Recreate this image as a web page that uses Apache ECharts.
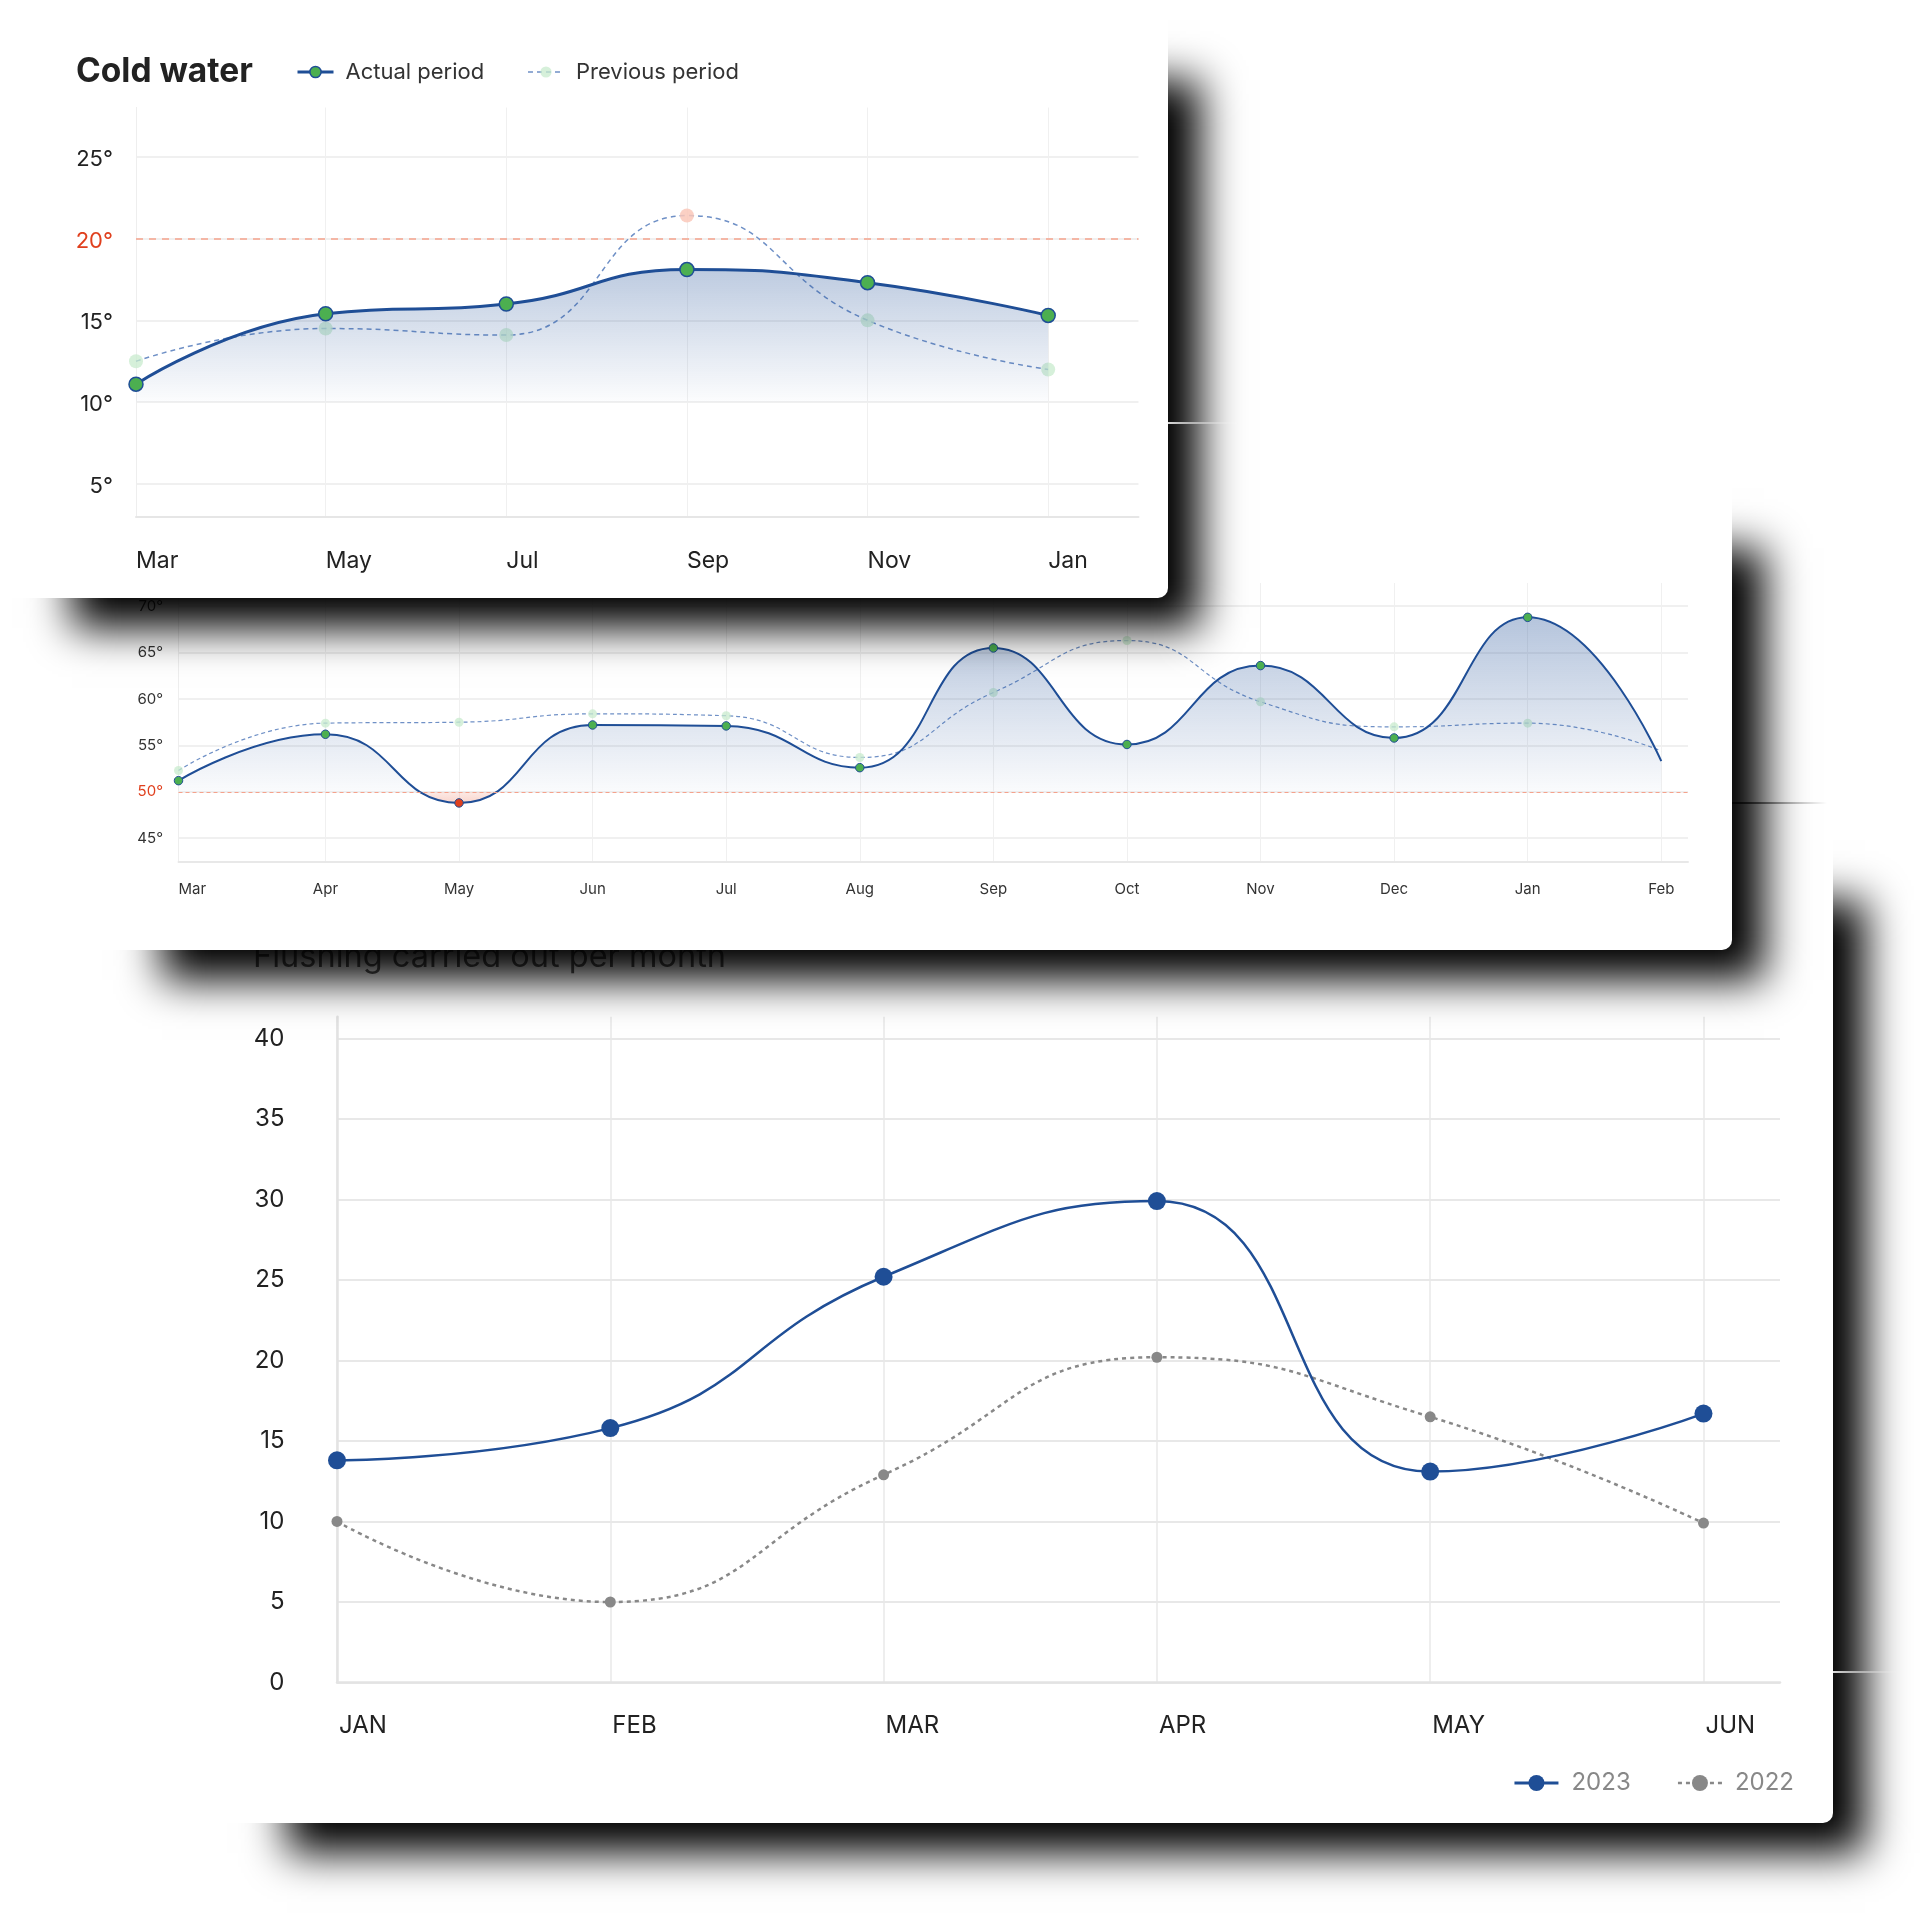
<!DOCTYPE html>
<html><head><meta charset="utf-8">
<script src="https://cdn.jsdelivr.net/npm/echarts@6/dist/echarts.min.js"></script>
<style>
html,body{margin:0;padding:0;background:#fff;width:1920px;height:1920px;overflow:hidden;font-family:Inter,sans-serif;}
.card{position:absolute;background:#fff;border-radius:10px;box-shadow:52px 50px 40px -20px rgba(0,0,0,1);}
.chart{position:absolute;left:0;top:0;width:100%;height:100%;}
.edge{position:absolute;z-index:5;}
</style></head><body>
<div class="card" style="left:215px;top:830px;width:1618px;height:993px;z-index:1"><div id="ch3" class="chart"></div></div>
<div class="card" style="left:90px;top:478px;width:1642px;height:472px;z-index:2"><div id="ch2" class="chart"></div></div>
<div class="card" style="left:0px;top:10px;width:1168px;height:588px;z-index:3"><div id="ch1" class="chart"></div></div>
<div class="edge" style="left:1168px;top:422px;width:70px;height:2px;background:linear-gradient(to right,rgba(255,255,255,0.85),rgba(255,255,255,0))"></div>
<div class="edge" style="left:1732px;top:802px;width:95px;height:2px;background:linear-gradient(to right,rgba(0,0,0,0.75),rgba(0,0,0,0))"></div>
<div class="edge" style="left:1833px;top:1671px;width:65px;height:2px;background:linear-gradient(to right,rgba(255,255,255,0.85),rgba(255,255,255,0))"></div>
<script>
// ---------- DATA ----------
// Chart 1: Cold water. Point dates in months after 1 March (first reading taken just before March).
const coldPointLabels = ['Mar','May','Jul','Sep','Nov','Jan'];
const coldPointPos = [-0.1, 2, 4, 6, 8, 10];
const coldActual = [11.1, 15.4, 16.0, 18.1, 17.3, 15.3];
const coldPrevious = [12.5, 14.5, 14.1, 21.4, 15.0, 12.0];
const coldYTicks = [5, 10, 15, 20, 25];
const coldLimit = 20;

// Chart 2: monthly temperature
const hotMonths = ['Mar','Apr','May','Jun','Jul','Aug','Sep','Oct','Nov','Dec','Jan','Feb'];
const hotPos = [-0.1, 1, 2, 3, 4, 5, 6, 7, 8, 9, 10, 11];
const hotActual = [51.2, 56.2, 48.8, 57.2, 57.1, 52.6, 65.5, 55.1, 63.6, 55.8, 68.8, 53.3];
const hotPrevious = [52.3, 57.4, 57.5, 58.4, 58.2, 53.7, 60.7, 66.3, 59.7, 57.0, 57.4, 54.4];
const hotYTicks = [45, 50, 55, 60, 65, 70];
const hotLimit = 50;

// Chart 3: Flushing carried out per month
const flushMonths = ['JAN','FEB','MAR','APR','MAY','JUN'];
const flush2023 = [13.8, 15.8, 25.2, 29.9, 13.1, 16.7];
const flush2022 = [10.0, 5.0, 12.9, 20.2, 16.5, 9.9];
const flushYTicks = [0, 5, 10, 15, 20, 25, 30, 35, 40];

// ---------- STYLE ----------
const FONT = 'Inter';
const BLUE = '#1f4e96', GREEN = '#4caf50', RED = '#e0401e', PREV = '#6f90c6';
const PALE = 'rgba(200,235,205,0.75)', PALERED = 'rgba(250,200,186,0.85)';
const LG = (stops) => new echarts.graphic.LinearGradient(0, 0, 0, 1, stops);
function degFmt(limit) { return v => v === limit ? '{r|' + v + '°}' : v + '°'; }
function labelAt(pos, labels) { return v => { const i = pos.indexOf(v); return i >= 0 ? labels[i] : ''; }; }

// ---------- CHART 1 ----------
const ch1 = echarts.init(document.getElementById('ch1'));
ch1.setOption({
  animation: false,
  textStyle: { fontFamily: FONT },
  title: { text: 'Cold water', left: 71, top: 40, textStyle: { fontFamily: FONT, fontSize: 33.5, fontWeight: 700, color: '#222', lineHeight: 34 } },
  legend: {
    left: 291, top: 45, itemWidth: 36, itemHeight: 14, itemGap: 43,
    textStyle: { fontFamily: FONT, fontSize: 22, color: '#333', padding: [0, 0, 0, 7], lineHeight: 24 },
    data: [
      { name: 'Actual period', itemStyle: { color: GREEN, borderColor: BLUE, borderWidth: 1.5 }, lineStyle: { color: BLUE, width: 3 } },
      { name: 'Previous period', itemStyle: { color: PALE, borderWidth: 0 }, lineStyle: { color: PREV, width: 1.5, type: [5, 4] } }
    ]
  },
  grid: { left: 136, top: 97.5, width: 1002.5, height: 409.3, outerBoundsMode: 'none' },
  xAxis: {
    type: 'value', min: -0.1, max: 11,
    axisLine: { show: true, onZero: false, lineStyle: { color: '#e6e6e6', width: 2 } },
    axisTick: { show: false, customValues: coldPointPos },
    axisLabel: { customValues: coldPointPos, formatter: labelAt(coldPointPos, coldPointLabels), align: 'left', margin: 33, fontFamily: FONT, fontSize: 23, color: '#222' },
    splitLine: { show: true, lineStyle: { color: '#f0f0f0', width: 1 } }
  },
  yAxis: {
    type: 'value', min: 3, max: 28,
    axisLine: { show: true, onZero: false, lineStyle: { color: '#eeeeee', width: 1 } },
    axisTick: { show: false, customValues: coldYTicks },
    axisLabel: { customValues: coldYTicks, formatter: degFmt(coldLimit), margin: 23, padding: [5, 0, 0, 0], fontFamily: FONT, fontSize: 22, color: '#222',
      rich: { r: { color: RED, fontFamily: FONT, fontSize: 22 } } },
    splitLine: { show: true, lineStyle: { color: '#ebebeb', width: 1.5 } }
  },
  series: [
    {
      name: 'Previous period', type: 'line', smooth: 0.5, symbol: 'circle', symbolSize: 14, z: 2,
      emphasis: { disabled: true },
      data: coldPrevious.map((v, i) => ({ value: [coldPointPos[i], v], itemStyle: v > coldLimit ? { color: PALERED } : undefined })),
      lineStyle: { color: PREV, width: 1.5, type: [5, 4] },
      itemStyle: { color: PALE, borderWidth: 0 }
    },
    {
      name: 'Actual period', type: 'line', smooth: 0.5, symbol: 'circle', symbolSize: 14, z: 3,
      emphasis: { disabled: true },
      data: coldActual.map((v, i) => ({ value: [coldPointPos[i], v], itemStyle: v > coldLimit ? { color: RED } : undefined })),
      lineStyle: { color: BLUE, width: 3 },
      itemStyle: { color: GREEN, borderColor: BLUE, borderWidth: 1.5 },
      areaStyle: { origin: 10, color: LG([{ offset: 0, color: 'rgba(31,78,150,0.42)' }, { offset: 1, color: 'rgba(31,78,150,0.02)' }]) },
      markLine: { silent: true, symbol: 'none', label: { show: false }, lineStyle: { color: '#f5a28c', type: [7, 6], width: 1.5 }, data: [{ yAxis: coldLimit }] }
    }
  ]
});

// ---------- CHART 2 ----------
const ch2 = echarts.init(document.getElementById('ch2'));
const hotHi = Math.max(...hotActual), hotLo = Math.min(...hotActual, hotLimit);
const hotStop = Math.min(0.999, (hotHi - hotLimit) / (hotHi - hotLo));
const lastHot = hotMonths.length - 1;
ch2.setOption({
  animation: false,
  textStyle: { fontFamily: FONT },
  grid: { left: 88.5, top: 105, width: 1509.5, height: 278.4, outerBoundsMode: 'none' },
  xAxis: {
    type: 'value', min: -0.1, max: 11.2,
    axisLine: { show: true, onZero: false, lineStyle: { color: '#e8e8e8', width: 2 } },
    axisTick: { show: false, customValues: hotPos },
    axisLabel: { customValues: hotPos, formatter: labelAt(hotPos, hotMonths), alignMinLabel: 'left', margin: 21, fontFamily: FONT, fontSize: 15, color: '#333' },
    splitLine: { show: true, lineStyle: { color: '#f0f0f0', width: 1 } }
  },
  yAxis: {
    type: 'value', min: 42.5, max: 72.5,
    axisLine: { show: true, onZero: false, lineStyle: { color: '#eeeeee', width: 1 } },
    axisTick: { show: false, customValues: hotYTicks },
    axisLabel: { customValues: hotYTicks, formatter: degFmt(hotLimit), margin: 15.5, fontFamily: FONT, fontSize: 15, color: '#333',
      rich: { r: { color: RED, fontFamily: FONT, fontSize: 15 } } },
    splitLine: { show: true, lineStyle: { color: '#ebebeb', width: 1.5 } }
  },
  series: [
    {
      name: 'Previous period', type: 'line', smooth: 0.5, symbol: 'circle', z: 2,
      symbolSize: (v, p) => p.dataIndex === lastHot ? 0 : 9,
      emphasis: { disabled: true },
      data: hotPrevious.map((v, i) => ({ value: [hotPos[i], v], itemStyle: v < hotLimit ? { color: PALERED } : undefined })),
      lineStyle: { color: PREV, width: 1.2, type: [4, 3] },
      itemStyle: { color: PALE, borderWidth: 0 }
    },
    {
      name: 'Actual period', type: 'line', smooth: 0.5, symbol: 'circle', z: 3,
      symbolSize: (v, p) => p.dataIndex === lastHot ? 0 : 8.5,
      emphasis: { disabled: true },
      data: hotActual.map((v, i) => ({ value: [hotPos[i], v], itemStyle: v < hotLimit ? { color: RED } : undefined })),
      lineStyle: { color: BLUE, width: 2 },
      itemStyle: { color: GREEN, borderColor: BLUE, borderWidth: 1 },
      areaStyle: { origin: hotLimit, color: LG([
        { offset: 0, color: 'rgba(31,78,150,0.47)' },
        { offset: hotStop, color: 'rgba(31,78,150,0.03)' },
        { offset: hotStop, color: 'rgba(235,110,80,0.2)' },
        { offset: 1, color: 'rgba(235,110,80,0.42)' }
      ]) },
      markLine: { silent: true, symbol: 'none', label: { show: false }, lineStyle: { color: '#f5a28c', type: [4, 3], width: 1.2 }, data: [{ yAxis: hotLimit }] }
    }
  ]
});

// ---------- CHART 3 ----------
const ch3 = echarts.init(document.getElementById('ch3'));
const flushIdx = flushMonths.map((m, i) => i);
ch3.setOption({
  animation: false,
  textStyle: { fontFamily: FONT },
  title: { text: 'Flushing carried out per month', left: 33, top: 106, textStyle: { fontFamily: FONT, fontSize: 32.5, fontWeight: 400, color: '#555', lineHeight: 33 } },
  legend: {
    right: 34, top: 934, itemWidth: 44, itemHeight: 20, itemGap: 46,
    textStyle: { fontFamily: FONT, fontSize: 24, color: '#888', padding: [0, 0, 0, 8], lineHeight: 28 },
    data: [
      { name: '2023', itemStyle: { color: BLUE }, lineStyle: { color: BLUE, width: 3 } },
      { name: '2022', itemStyle: { color: '#888' }, lineStyle: { color: '#888', width: 2.5, type: [4, 4] } }
    ]
  },
  grid: { left: 122, top: 186.7, width: 1443, height: 665.8, outerBoundsMode: 'none' },
  xAxis: {
    type: 'value', min: 0, max: 5.28,
    axisLine: { show: true, onZero: false, lineStyle: { color: '#e3e3e3', width: 2.5 } },
    axisTick: { show: false, customValues: flushIdx },
    axisLabel: { customValues: flushIdx, formatter: v => flushMonths[v] || '', align: 'left', margin: 31, padding: [0, 0, 0, 2], fontFamily: FONT, fontSize: 24, color: '#222' },
    splitLine: { show: true, lineStyle: { color: '#e8e8e8', width: 1.5 } }
  },
  yAxis: {
    type: 'value', min: 0, max: 41.35,
    axisLine: { show: true, onZero: false, lineStyle: { color: '#e3e3e3', width: 2.5 } },
    axisTick: { show: false, customValues: flushYTicks },
    axisLabel: { customValues: flushYTicks, margin: 52.5, padding: [0, 0, 5, 0], fontFamily: FONT, fontSize: 24, color: '#222' },
    splitLine: { show: true, lineStyle: { color: '#e8e8e8', width: 2 } }
  },
  series: [
    {
      name: '2022', type: 'line', smooth: 0.5, symbol: 'circle', symbolSize: 11, z: 2,
      emphasis: { disabled: true },
      data: flush2022.map((v, i) => [i, v]),
      lineStyle: { color: '#888', width: 2.5, type: [4, 4] },
      itemStyle: { color: '#888' }
    },
    {
      name: '2023', type: 'line', smooth: 0.5, symbol: 'circle', symbolSize: 18, z: 3,
      emphasis: { disabled: true },
      data: flush2023.map((v, i) => [i, v]),
      lineStyle: { color: BLUE, width: 2.5 },
      itemStyle: { color: BLUE }
    }
  ]
});
</script>
</body></html>
